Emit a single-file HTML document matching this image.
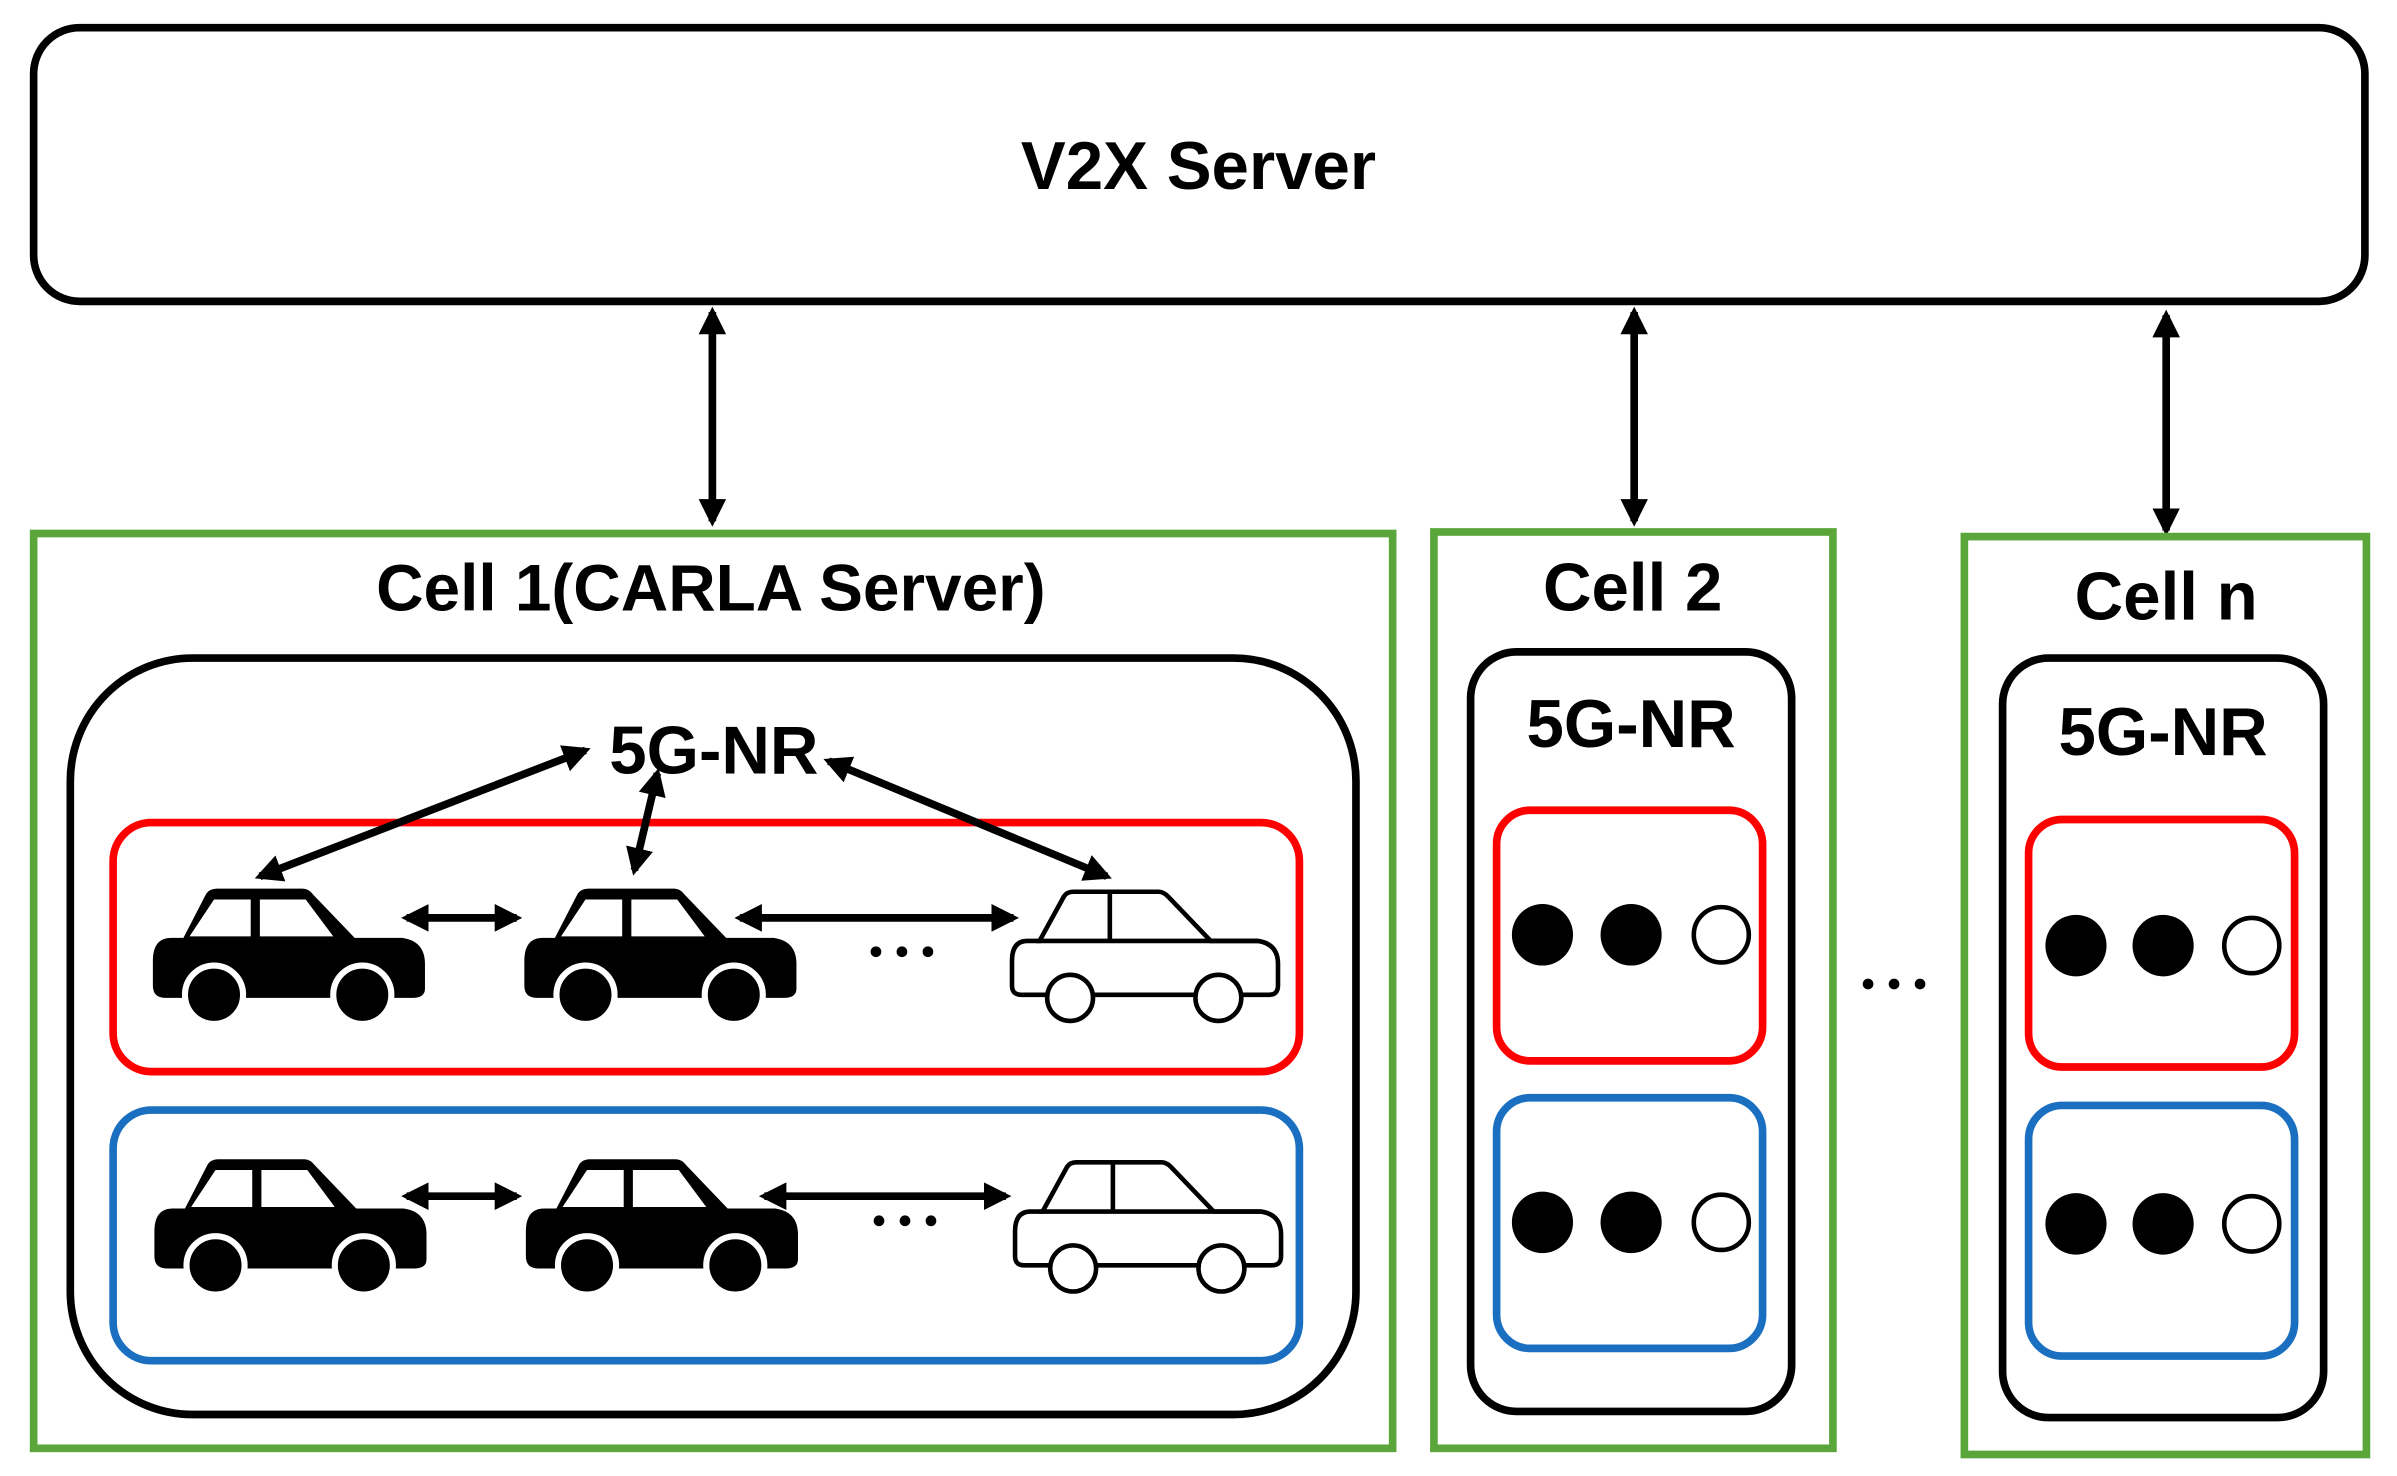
<!DOCTYPE html>
<html><head><style>html,body{margin:0;padding:0;background:#fff}svg{display:block}</style></head>
<body>
<svg width="2397" height="1476" viewBox="0 0 1568 960" preserveAspectRatio="none" xmlns="http://www.w3.org/2000/svg" font-family="Liberation Sans, sans-serif" font-weight="bold">
<defs>
<marker id="a" viewBox="0 0 10 10" refX="8" refY="5" markerWidth="3.6" markerHeight="3.6" orient="auto-start-reverse"><path d="M0,0 L10,5 L0,10 Z" fill="#000"/></marker>
<g id="car">
<path d="M0,48 Q0,33 12,33 L20,33 L34,6 Q36,1 42,1 L98,1 Q102,1 105,5 L132,33 L163,33 Q178,35 178,50 L178,66 Q178,72 170,72 L8,72 Q0,72 0,64 Z" fill="#000"/>
<path d="M24,32 L40,8 L64,8 L64,32 Z M70,8 L100,8 L118,32 L70,32 Z" fill="#fff"/>
<circle cx="40" cy="70" r="19" fill="#000" stroke="#fff" stroke-width="4"/>
<circle cx="137" cy="70" r="19" fill="#000" stroke="#fff" stroke-width="4"/>
</g>
<g id="ocar">
<path d="M2,48 Q2,35 12,35 L20,35 L36,6 Q38,3 42,3 L98,3 Q101,3 104,6 L132,35 L163,35 Q176,37 176,50 L176,64 Q176,70 170,70 L8,70 Q2,70 2,64 Z" fill="#fff" stroke="#000" stroke-width="3"/>
<path d="M18,35 L163,35 M66,3 L66,35" stroke="#000" stroke-width="3"/>
<circle cx="40" cy="72" r="15" fill="#fff" stroke="#000" stroke-width="3"/>
<circle cx="137" cy="72" r="15" fill="#fff" stroke="#000" stroke-width="3"/>
</g>
</defs>
<rect x="22" y="18" width="1525" height="178" rx="30" fill="#fff" stroke="#000" stroke-width="5"/>
<text x="784" y="123" font-size="44" text-anchor="middle">V2X Server</text>
<g stroke="#000" stroke-width="5" marker-start="url(#a)" marker-end="url(#a)">
<line x1="466" y1="203" x2="466" y2="339"/>
<line x1="1069" y1="203" x2="1069" y2="339"/>
<line x1="1417" y1="205" x2="1417" y2="345"/>
</g>
<g fill="none" stroke="#5aa63a" stroke-width="5">
<rect x="22" y="347" width="889" height="595"/>
<rect x="938" y="346" width="261" height="596"/>
<rect x="1285" y="349" width="263" height="597"/>
</g>
<text x="465" y="397" font-size="43" text-anchor="middle">Cell 1(CARLA Server)</text>
<text x="1068" y="397" font-size="44" text-anchor="middle">Cell 2</text>
<text x="1417" y="403" font-size="44" text-anchor="middle">Cell n</text>
<g fill="none" stroke="#000" stroke-width="5">
<rect x="46" y="428" width="841" height="492" rx="80"/>
<rect x="962" y="424" width="210" height="494" rx="30"/>
<rect x="1310" y="428" width="210" height="494" rx="30"/>
</g>
<text x="467" y="503" font-size="44" text-anchor="middle">5G-NR</text>
<text x="1067" y="486" font-size="44" text-anchor="middle">5G-NR</text>
<text x="1415" y="491" font-size="44" text-anchor="middle">5G-NR</text>
<g fill="none" stroke="#f00" stroke-width="5">
<rect x="74" y="535" width="776" height="162" rx="25"/>
<rect x="979" y="527" width="174" height="163" rx="22"/>
<rect x="1327" y="533" width="174" height="161" rx="22"/>
</g>
<g fill="none" stroke="#1a6fc0" stroke-width="5">
<rect x="74" y="722" width="776" height="163" rx="25"/>
<rect x="979" y="714" width="174" height="163" rx="22"/>
<rect x="1327" y="719" width="174" height="163" rx="22"/>
</g>
<use href="#car" x="100" y="577"/><use href="#car" x="343" y="577"/><use href="#ocar" x="660" y="577"/>
<use href="#car" x="101" y="753"/><use href="#car" x="344" y="753"/><use href="#ocar" x="662" y="753"/>
<g stroke="#000" stroke-width="5" marker-start="url(#a)" marker-end="url(#a)">
<line x1="266" y1="597" x2="338" y2="597"/>
<line x1="484" y1="597" x2="663" y2="597"/>
<line x1="266" y1="778" x2="338" y2="778"/>
<line x1="500" y1="778" x2="658" y2="778"/>
<line x1="383" y1="488" x2="170" y2="570"/>
<line x1="430" y1="503" x2="415" y2="566"/>
<line x1="542" y1="495" x2="724" y2="570"/>
</g>
<g fill="#000">
<circle cx="573" cy="619" r="3.5"/><circle cx="590" cy="619" r="3.5"/><circle cx="607" cy="619" r="3.5"/>
<circle cx="575" cy="794" r="3.5"/><circle cx="592" cy="794" r="3.5"/><circle cx="609" cy="794" r="3.5"/>
<circle cx="1222" cy="640" r="3.5"/><circle cx="1239" cy="640" r="3.5"/><circle cx="1256" cy="640" r="3.5"/>
<circle cx="1009" cy="608" r="20"/><circle cx="1067" cy="608" r="20"/>
<circle cx="1009" cy="795" r="20"/><circle cx="1067" cy="795" r="20"/>
<circle cx="1358" cy="615" r="20"/><circle cx="1415" cy="615" r="20"/>
<circle cx="1358" cy="796" r="20"/><circle cx="1415" cy="796" r="20"/>
</g>
<g fill="#fff" stroke="#000" stroke-width="3">
<circle cx="1126" cy="608" r="18"/><circle cx="1126" cy="795" r="18"/>
<circle cx="1473" cy="615" r="18"/><circle cx="1473" cy="796" r="18"/>
</g>
</svg>
</body></html>
